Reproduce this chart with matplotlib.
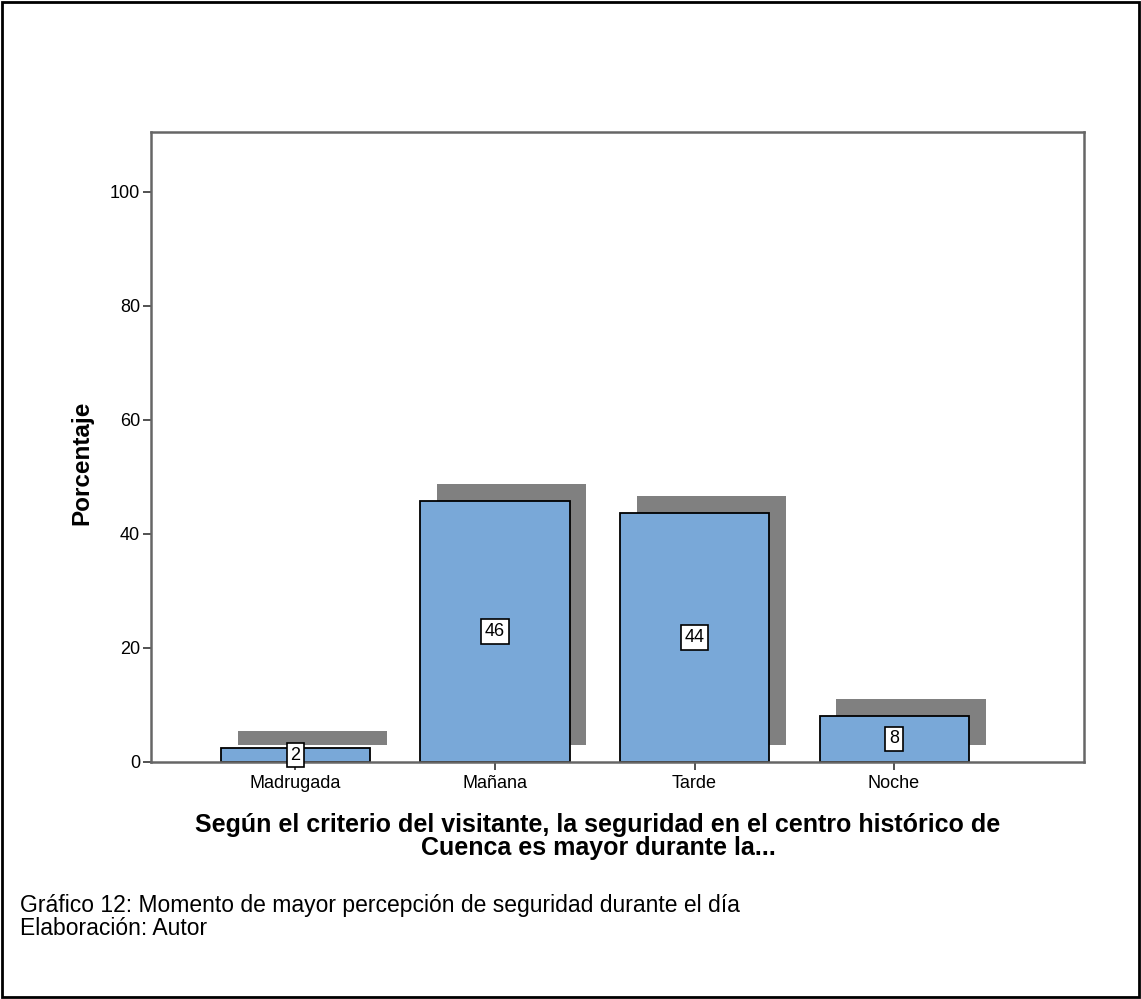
import matplotlib.pyplot as plt
from matplotlib.patches import Rectangle

plt.rcParams['font.family'] = ['Liberation Sans', 'DejaVu Sans']

# data
categories = ["Madrugada", "Mañana", "Tarde", "Noche"]
percent = [2.4, 45.8, 43.7, 8.1]
labels = ["2", "46", "44", "8"]
yticks = [0, 20, 40, 60, 80, 100]

bar_color = "#79a8d8"
shadow_color = "#808080"
width = 0.747
dx, dy = 0.085, 3.0  # shadow offset

W, H = 1141, 999
fig = plt.figure(figsize=(W / 100, H / 100), dpi=100)
ax = fig.add_axes([151 / W, 1 - 762 / H, (1084 - 151) / W, (762 - 132) / H])

x = list(range(len(categories)))
# shadows behind bars
ax.bar([i + dx for i in x], percent, width=width, bottom=dy,
       color=shadow_color, edgecolor="none", zorder=1)
ax.bar(x, percent, width=width, color=bar_color, edgecolor="black",
       linewidth=1.3, zorder=2)

for i, (v, lab) in enumerate(zip(percent, labels)):
    ax.text(i, v / 2, lab, ha="center", va="center", fontsize=13, zorder=4,
            clip_on=False,
            bbox=dict(boxstyle="square,pad=0.2", facecolor="white",
                      edgecolor="black", linewidth=1.2))

ax.set_xlim(-0.724, 3.952)
ax.set_ylim(0, 110.5)
ax.set_xticks(x)
ax.set_xticklabels(categories, fontsize=13)
ax.set_yticks(yticks)
ax.set_yticklabels([str(t) for t in yticks], fontsize=13)
ax.tick_params(axis="both", direction="out", length=6, width=1.2, color="#333333")
ax.tick_params(axis="x", pad=3)
ax.tick_params(axis="y", pad=2)
for s in ax.spines.values():
    s.set_color("#666666")
    s.set_linewidth(1.8)

ax.set_ylabel("Porcentaje", fontsize=17.5, fontweight="bold")
ax.yaxis.set_label_coords(-0.062, 0.475)
fig.text(598 / W, 1 - 813 / H,
         "Según el criterio del visitante, la seguridad en el centro histórico de\n"
         "Cuenca es mayor durante la...", fontsize=18, fontweight="bold",
         ha="center", va="top", linespacing=0.95, multialignment="center")

fig.text(20 / W, 1 - 894 / H, "Gráfico 12: Momento de mayor percepción de seguridad durante el día\n"
         "Elaboración: Autor", fontsize=16.5, va="top", ha="left", linespacing=1.0)

# outer border
fig.patches.append(Rectangle((2 / W, 2 / H), 1 - 4 / W, 1 - 4 / H,
                             transform=fig.transFigure, fill=False,
                             edgecolor="black", linewidth=2))

fig.savefig("out.png", dpi=100)
